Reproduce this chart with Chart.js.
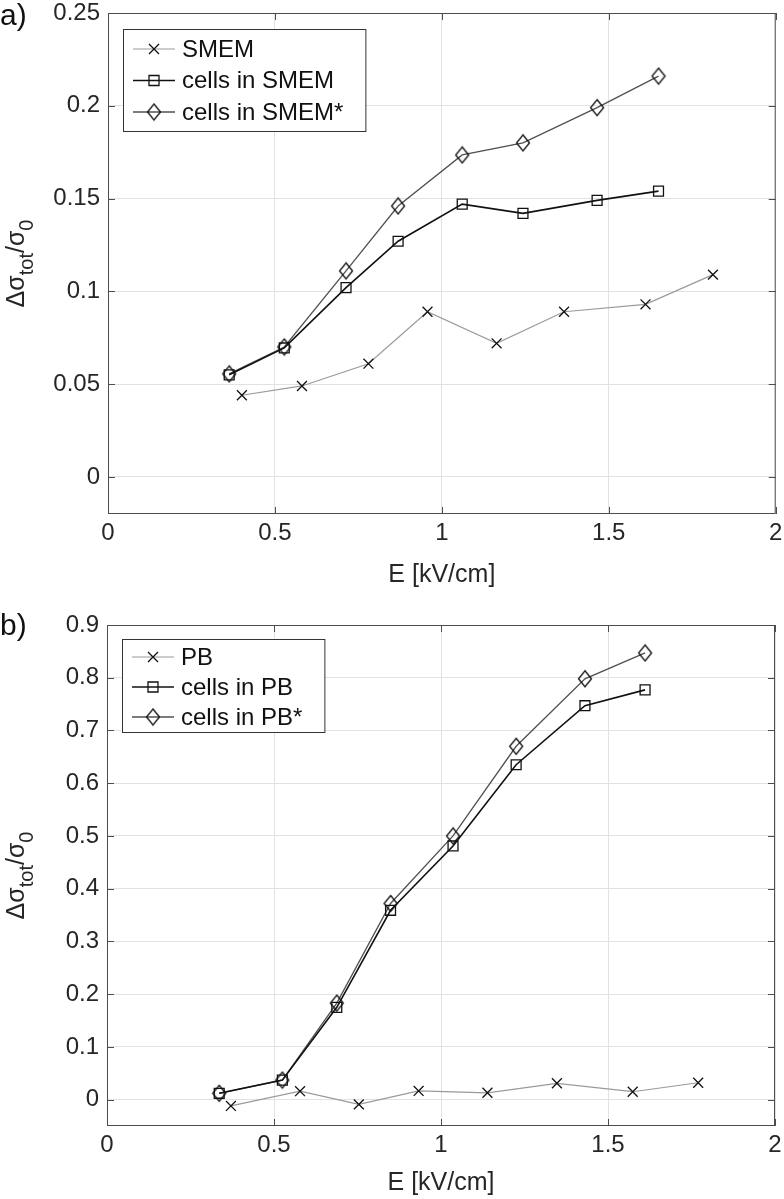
<!DOCTYPE html>
<html>
<head>
<meta charset="utf-8">
<script src="https://cdn.jsdelivr.net/npm/chart.js@4.4.0/dist/chart.umd.min.js"></script>
<style>
  body { margin:0; background:#fff; width:784px; height:1199px; overflow:hidden; }
  .panel { position:absolute; left:0; width:784px; }
  #panelA { top:0; height:595px; }
  #panelB { top:595px; height:604px; }
</style>
</head>
<body>
<div class="panel" id="panelA"><canvas id="chartA"></canvas></div>
<div class="panel" id="panelB"><canvas id="chartB"></canvas></div>
<script>
// panel a) SMEM
const smemE = [0.401, 0.581, 0.780, 0.957, 1.164, 1.366, 1.610, 1.812];
const smemVal = [0.044, 0.049, 0.061, 0.089, 0.072, 0.089, 0.093, 0.109];
const cellsSmemE = [0.363, 0.528, 0.713, 0.869, 1.061, 1.243, 1.465, 1.649];
const cellsSmemVal = [0.055, 0.0695, 0.102, 0.127, 0.147, 0.142, 0.149, 0.154];
const cellsSmemStarVal = [0.0555, 0.070, 0.111, 0.146, 0.1735, 0.180, 0.199, 0.216];
const ticksA = [0, 0.05, 0.1, 0.15, 0.2, 0.25];

// panel b) PB
const pbE = [0.371, 0.578, 0.754, 0.933, 1.139, 1.347, 1.574, 1.770];
const pbVal = [-0.012, 0.016, -0.009, 0.0165, 0.013, 0.031, 0.015, 0.032];
const cellsPbE = [0.336, 0.525, 0.688, 0.849, 1.036, 1.225, 1.431, 1.611];
const cellsPbVal = [0.012, 0.037, 0.175, 0.359, 0.481, 0.635, 0.747, 0.777];
const cellsPbStarVal = [0.012, 0.037, 0.183, 0.372, 0.500, 0.670, 0.798, 0.847];
const ticksB = [0, 0.1, 0.2, 0.3, 0.4, 0.5, 0.6, 0.7, 0.8, 0.9];

const ticksX = [0, 0.5, 1, 1.5, 2];

const FONT = '"Liberation Sans", Arial, sans-serif';
const TXT = '#262626';

function pairs(xs, ys) {
    return xs.map((x, i) => ({ x: x, y: ys[i] }));
}

// MATLAB style diamond (a bit taller than wide)
function diamondImg() {
    const c = document.createElement('canvas');
    c.width = 16; c.height = 19;
    const g = c.getContext('2d');
    g.strokeStyle = '#111';
    g.lineWidth = 1.3;
    g.beginPath();
    g.moveTo(8, 1.5); g.lineTo(14.5, 9.5); g.lineTo(8, 17.5); g.lineTo(1.5, 9.5);
    g.closePath();
    g.stroke();
    return c;
}
const diamond = diamondImg();

function marker(ctx, style, x, y) {
    ctx.save();
    ctx.strokeStyle = '#111';
    ctx.lineWidth = 1.3;
    ctx.beginPath();
    if (style === 'crossRot') {
        const d = 5;
        ctx.moveTo(x - d, y - d); ctx.lineTo(x + d, y + d);
        ctx.moveTo(x + d, y - d); ctx.lineTo(x - d, y + d);
        ctx.stroke();
    } else if (style === 'rect') {
        ctx.rect(x - 5, y - 5, 10, 10);
        ctx.stroke();
    } else {
        ctx.drawImage(diamond, x - 8, y - 9.5);
    }
    ctx.restore();
}

// box, inner ticks, legend, y label and panel letter
const frame = {
    id: 'frame',
    afterDraw(chart, args, opts) {
        const ctx = chart.ctx;
        const a = chart.chartArea;
        const xs = chart.scales.x, ys = chart.scales.y;
        ctx.save();
        ctx.strokeStyle = '#4d4d4d';
        ctx.lineWidth = 1;
        ctx.strokeRect(a.left + 0.5, a.top + 0.5, a.right - a.left - 1, a.bottom - a.top - 1);
        ctx.beginPath();
        ticksX.forEach(v => {
            const px = Math.round(xs.getPixelForValue(v)) + 0.5;
            ctx.moveTo(px, a.bottom); ctx.lineTo(px, a.bottom - 7);
            ctx.moveTo(px, a.top); ctx.lineTo(px, a.top + 7);
        });
        opts.yTicks.forEach(v => {
            const py = Math.round(ys.getPixelForValue(v)) + 0.5;
            ctx.moveTo(a.left, py); ctx.lineTo(a.left + 7, py);
            ctx.moveTo(a.right, py); ctx.lineTo(a.right - 7, py);
        });
        ctx.stroke();

        // legend
        ctx.font = '24px ' + FONT;
        const bx = a.left + 15, by = a.top + opts.legendTop;
        const rowH = opts.rowH;
        let tw = 0;
        opts.legend.forEach(it => { tw = Math.max(tw, ctx.measureText(it.text).width); });
        const bw = 59 + tw + 22, bh = opts.boxH;
        ctx.fillStyle = '#fff';
        ctx.fillRect(bx, by, bw, bh);
        ctx.strokeStyle = '#333';
        ctx.strokeRect(bx + 0.5, by + 0.5, bw, bh);
        opts.legend.forEach((it, i) => {
            const cy = by + opts.firstRow + i * rowH;
            ctx.strokeStyle = it.color;
            ctx.lineWidth = it.width;
            ctx.beginPath();
            ctx.moveTo(bx + 10, cy); ctx.lineTo(bx + 52, cy);
            ctx.stroke();
            marker(ctx, it.style, bx + 31, cy);
            ctx.fillStyle = '#111';
            ctx.textBaseline = 'middle';
            ctx.textAlign = 'left';
            ctx.fillText(it.text, bx + 59, cy + 1);
        });

        // y axis label  Δσ_tot/σ_0
        const parts = [['Δσ', 25, 0], ['tot', 20, 9], ['/σ', 25, 0], ['0', 20, 9]];
        let total = 0;
        parts.forEach(p => { ctx.font = p[1] + 'px ' + FONT; total += ctx.measureText(p[0]).width; });
        ctx.translate(24, (a.top + a.bottom) / 2);
        ctx.rotate(-Math.PI / 2);
        ctx.fillStyle = TXT;
        ctx.textBaseline = 'alphabetic';
        let x = -total / 2;
        parts.forEach(p => {
            ctx.font = p[1] + 'px ' + FONT;
            ctx.fillText(p[0], x, p[2]);
            x += ctx.measureText(p[0]).width;
        });
        ctx.restore();

        // panel letter
        ctx.save();
        ctx.font = '30px ' + FONT;
        ctx.fillStyle = '#111';
        ctx.textBaseline = 'middle';
        ctx.fillText(opts.letter, 0, opts.letterY);
        ctx.restore();
    }
};

function lineSet(label, xs, ys, color, width, style) {
    return {
        label: label,
        data: pairs(xs, ys),
        borderColor: color,
        borderWidth: width,
        pointStyle: style === 'diamond' ? diamond : style,
        pointRadius: 7,
        pointBorderColor: '#111',
        pointBorderWidth: 1.3,
        pointBackgroundColor: 'rgba(0,0,0,0)',
        fill: false,
        tension: 0
    };
}

function makeChart(id, sets, yMin, yMax, yTicks, leftW, pad, xH, frameOpts) {
    return new Chart(document.getElementById(id).getContext('2d'), {
        type: 'line',
        data: { datasets: sets },
        plugins: [frame],
        options: {
            responsive: true,
            maintainAspectRatio: false,
            animation: false,
            layout: { padding: pad },
            plugins: { legend: { display: false }, tooltip: { enabled: false }, frame: frameOpts },
            scales: {
                x: {
                    type: 'linear', min: 0, max: 2,
                    afterBuildTicks: s => { s.ticks = ticksX.map(v => ({ value: v })); },
                    afterFit: s => { s.height = xH; s.paddingLeft = 0; s.paddingRight = 0; },
                    grid: { color: '#e2e2e2', drawTicks: false },
                    border: { display: false },
                    ticks: { padding: 5, color: TXT, font: { family: FONT, size: 24 }, callback: v => String(v) },
                    title: { display: true, text: 'E [kV/cm]', color: TXT, font: { family: FONT, size: 25 }, padding: 0 }
                },
                y: {
                    type: 'linear', min: yMin, max: yMax,
                    afterBuildTicks: s => { s.ticks = yTicks.map(v => ({ value: v })); },
                    afterFit: s => { s.width = leftW; s.paddingTop = 0; s.paddingBottom = 0; },
                    grid: { color: '#e2e2e2', drawTicks: false },
                    border: { display: false },
                    ticks: { padding: 8, color: TXT, font: { family: FONT, size: 24 }, callback: v => String(+v.toFixed(2)) }
                }
            }
        }
    });
}

makeChart('chartA', [
    lineSet('SMEM', smemE, smemVal, '#9a9a9a', 1.2, 'crossRot'),
    lineSet('cells in SMEM', cellsSmemE, cellsSmemVal, '#111', 1.6, 'rect'),
    lineSet('cells in SMEM*', cellsSmemE, cellsSmemStarVal, '#505050', 1.3, 'diamond')
], -0.02, 0.25, ticksA, 108, { left: 0, top: 13, right: 7, bottom: 5 }, 76, {
    yTicks: ticksA, letter: 'a)', letterY: 17, legendTop: 16, rowH: 31.5, firstRow: 20, boxH: 102,
    legend: [
        { text: 'SMEM', color: '#9a9a9a', width: 1.2, style: 'crossRot' },
        { text: 'cells in SMEM', color: '#111', width: 1.6, style: 'rect' },
        { text: 'cells in SMEM*', color: '#505050', width: 1.3, style: 'diamond' }
    ]
});

makeChart('chartB', [
    lineSet('PB', pbE, pbVal, '#9a9a9a', 1.2, 'crossRot'),
    lineSet('cells in PB', cellsPbE, cellsPbVal, '#111', 1.6, 'rect'),
    lineSet('cells in PB*', cellsPbE, cellsPbStarVal, '#505050', 1.3, 'diamond')
], -0.05, 0.9, ticksB, 107, { left: 0, top: 30, right: 9, bottom: 1 }, 72, {
    yTicks: ticksB, letter: 'b)', letterY: 32, legendTop: 14, rowH: 30, firstRow: 18, boxH: 93,
    legend: [
        { text: 'PB', color: '#9a9a9a', width: 1.2, style: 'crossRot' },
        { text: 'cells in PB', color: '#111', width: 1.6, style: 'rect' },
        { text: 'cells in PB*', color: '#505050', width: 1.3, style: 'diamond' }
    ]
});
</script>
</body>
</html>
